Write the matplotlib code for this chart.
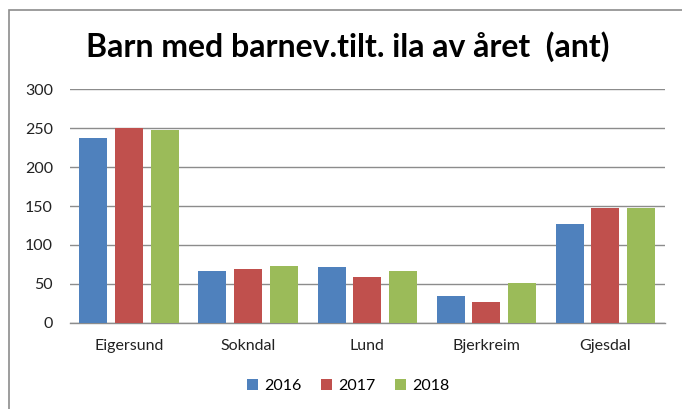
import matplotlib
matplotlib.use("Agg")
import matplotlib.pyplot as plt
from matplotlib.patches import Rectangle
import numpy as np

categories = ["Eigersund", "Sokndal", "Lund", "Bjerkreim", "Gjesdal"]
series_names = ["2016", "2017", "2018"]
v2016 = [237, 66, 72, 34, 127]
v2017 = [250, 69, 59, 27, 147]
v2018 = [248, 73, 66, 51, 148]
colors = ["#4F81BD", "#C0504D", "#9BBB59"]
yticks = [0, 50, 100, 150, 200, 250, 300]

plt.rcParams['font.family'] = ['Lato', 'DejaVu Sans']

fig = plt.figure(figsize=(6.82, 4.09), dpi=100)
W, H = 682, 409
ax = fig.add_axes([69.5 / W, 1 - 322.7 / H, (665 - 69.5) / W, (322.7 - 89.3) / H])

x = np.arange(len(categories))
bw = 0.235
step = 0.30
for i, (vals, name, c) in enumerate(zip([v2016, v2017, v2018], series_names, colors)):
    ax.bar(x + (i - 1) * step, vals, width=bw, color=c, label=name, zorder=3)

ax.set_xlim(-0.5, len(categories) - 0.5)
ax.set_ylim(0, 300)
ax.set_yticks(yticks)
ax.set_xticks(x)
ax.set_xticklabels(categories)
ax.yaxis.grid(True, color="#8c8c8c", linewidth=1.0, zorder=0)
for s in ["top", "right", "left"]:
    ax.spines[s].set_visible(False)
ax.spines["bottom"].set_color("#8c8c8c")
ax.spines["bottom"].set_linewidth(1.0)
ax.tick_params(axis="both", length=0, labelsize=11.5, colors="#222222")
ax.tick_params(axis="y", pad=12)
ax.tick_params(axis="x", pad=12)

fig.text(348 / W, 1 - 47 / H, "Barn med barnev.tilt. ila av året  (ant)",
         ha="center", va="center", fontsize=23, fontweight="bold", color="black")

leg = fig.legend(loc="center", bbox_to_anchor=(348 / W, 1 - 386 / H), ncol=3,
                 frameon=False, fontsize=11.5, handlelength=0.7, handleheight=0.7,
                 columnspacing=1.2, handletextpad=0.4)

border = Rectangle((9 / W, -0.05), 1.2, 1 - 10 / H + 0.05, transform=fig.transFigure,
                   fill=False, edgecolor="#8c8c8c", linewidth=1.2)
fig.patches.append(border)

fig.savefig("out.png", dpi=100)
